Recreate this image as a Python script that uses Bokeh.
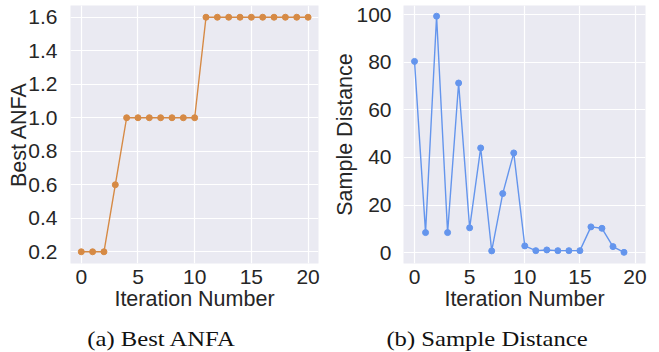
from bokeh.plotting import figure
from bokeh.models import Range1d, FixedTicker, Div, NumeralTickFormatter
from bokeh.layouts import row, column
from bokeh.embed import file_html
from bokeh.resources import INLINE

# ---- data ----
anfa_iter = list(range(21))
best_anfa = [0.2, 0.2, 0.2, 0.6, 1.0, 1.0, 1.0, 1.0, 1.0, 1.0, 1.0,
             1.6, 1.6, 1.6, 1.6, 1.6, 1.6, 1.6, 1.6, 1.6, 1.6]
dist_iter = list(range(20))
sample_distance = [80.4, 8.4, 99.4, 8.4, 71.3, 10.4, 44.0, 0.7, 24.8, 41.9,
                   2.8, 0.8, 1.1, 0.8, 0.8, 0.8, 10.8, 10.2, 2.5, 0.1]
x_ticks = [0, 5, 10, 15, 20]
anfa_ticks = [0.2, 0.4, 0.6, 0.8, 1.0, 1.2, 1.4, 1.6]
dist_ticks = [0, 20, 40, 60, 80, 100]
x_label = "Iteration Number"
y_label_a = "Best ANFA"
y_label_b = "Sample Distance"
caption_a = "(a) Best ANFA"
caption_b = "(b) Sample Distance"

BG = "#EAEAF2"
TXT = "#262626"
SANS = "Liberation Sans"
ORANGE = "#D68A45"
BLUE = "#6495ED"


def style(p, xt, yt):
    p.background_fill_color = BG
    p.border_fill_color = "white"
    p.outline_line_color = None
    p.grid.grid_line_color = "white"
    p.grid.grid_line_width = 1.2
    p.xaxis.ticker = FixedTicker(ticks=xt)
    p.yaxis.ticker = FixedTicker(ticks=yt)
    for ax in (p.xaxis, p.yaxis):
        ax.axis_line_color = None
        ax.major_tick_line_color = None
        ax.minor_tick_line_color = None
        ax.major_label_text_font = SANS
        ax.major_label_text_font_size = "21px"
        ax.major_label_text_color = TXT
        ax.axis_label_text_font = SANS
        ax.axis_label_text_font_size = "21.5px"
        ax.axis_label_text_font_style = "normal"
        ax.axis_label_text_color = TXT
    p.xaxis.major_label_standoff = 0
    p.xaxis.axis_label_standoff = 0
    p.yaxis.major_label_standoff = 7
    p.yaxis.axis_label_standoff = -6


p1 = figure(frame_width=248, frame_height=258, output_backend="svg",
            toolbar_location=None, x_range=Range1d(-0.95, 20.92),
            y_range=Range1d(0.13, 1.67), min_border_left=70,
            min_border_right=12, min_border_top=5, min_border_bottom=50)
style(p1, x_ticks, anfa_ticks)
p1.yaxis.formatter = NumeralTickFormatter(format="0.0")
p1.xaxis.axis_label = x_label
p1.yaxis.axis_label = y_label_a
p1.line(anfa_iter, best_anfa, color=ORANGE, line_width=1.4)
p1.scatter(anfa_iter, best_anfa, color=ORANGE, size=6)

p2 = figure(frame_width=242, frame_height=258, output_backend="svg",
            toolbar_location=None, x_range=Range1d(-1.0, 20.95),
            y_range=Range1d(-4.6, 103.9), min_border_left=72,
            min_border_right=6, min_border_top=5, min_border_bottom=50)
style(p2, x_ticks, dist_ticks)
p2.yaxis.major_label_standoff = 6
p2.yaxis.axis_label_standoff = -4
p2.xaxis.axis_label = x_label
p2.yaxis.axis_label = y_label_b
p2.line(dist_iter, sample_distance, color=BLUE, line_width=1.4)
p2.scatter(dist_iter, sample_distance, color=BLUE, size=6)

cap_style = ("position:absolute;top:5px;white-space:nowrap;"
             "font-family:'Liberation Serif';font-size:22px;color:#111;"
             "transform:translateX(-50%) scaleX(1.12);")
html = (
    '<div style="position:relative;width:643px;height:37px;">'
    f'<span style="{cap_style}left:156px;">{caption_a}</span>'
    f'<span style="{cap_style}left:482px;">{caption_b}</span>'
    '</div>'
)
caps = Div(text=html, width=643, height=37)

layout = column(row(p1, p2), caps)
open("out.html", "w").write(file_html(layout, INLINE))
